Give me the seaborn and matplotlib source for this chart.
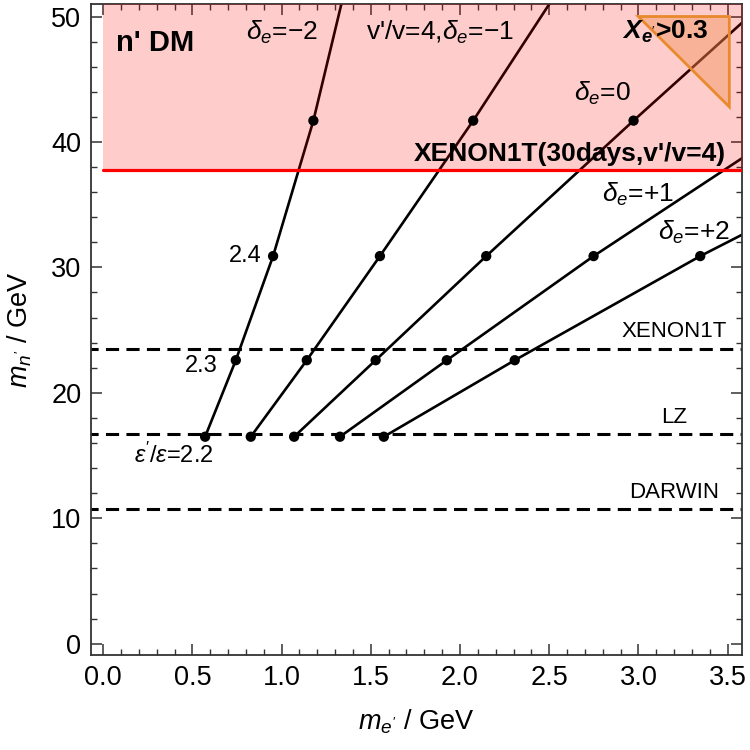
import matplotlib
matplotlib.use('Agg')
import matplotlib.pyplot as plt
from matplotlib.ticker import MultipleLocator, FormatStrFormatter
import seaborn as sns
import pandas as pd

# Data
eps_ratio = [2.2, 2.3, 2.4, 2.5]
dot_mn = [16.5, 22.6, 30.9, 41.7]          # m_n' at the eps'/eps dots

de_m2_x = [0.571, 0.743, 0.952, 1.178, 1.335]
de_m2_y = [16.5, 22.6, 30.9, 41.7, 51.0]
de_m1_x = [0.827, 1.141, 1.551, 2.074, 2.501]
de_m1_y = [16.5, 22.6, 30.9, 41.7, 51.0]
de_0_x = [1.070, 1.527, 2.147, 2.973, 3.581]
de_0_y = [16.5, 22.6, 30.9, 41.7, 49.5]
de_p1_x = [1.327, 1.926, 2.749, 3.581]
de_p1_y = [16.5, 22.6, 30.9, 38.7]
de_p2_x = [1.573, 2.307, 3.347, 3.581]
de_p2_y = [16.5, 22.6, 30.9, 32.6]

xenon_30d = 37.8
limits = {'XENON1T': 23.5, 'LZ': 16.7, 'DARWIN': 10.7}
tri_x = [3.0, 3.51, 3.51]
tri_y = [50.0, 50.0, 42.8]

curves = [('-2', de_m2_x, de_m2_y), ('-1', de_m1_x, de_m1_y), ('0', de_0_x, de_0_y),
          ('+1', de_p1_x, de_p1_y), ('+2', de_p2_x, de_p2_y)]
rows, dots = [], []
for name, xs, ys in curves:
    for i, (a, b) in enumerate(zip(xs, ys)):
        rows.append({'delta': name, 'me': a, 'mn': b})
        if i < len(xs) - 1 and b in dot_mn:
            dots.append({'delta': name, 'me': a, 'mn': b})
df = pd.DataFrame(rows)
df_dots = pd.DataFrame(dots)

sns.set_theme(style='ticks')
plt.rcParams['font.family'] = ['Liberation Sans', 'DejaVu Sans']
plt.rcParams['mathtext.fontset'] = 'custom'
plt.rcParams['mathtext.rm'] = 'Liberation Sans'
plt.rcParams['mathtext.it'] = 'Liberation Sans:italic'
plt.rcParams['mathtext.bf'] = 'Liberation Sans:bold'
plt.rcParams['mathtext.bfit'] = 'Liberation Sans:italic:bold'
for k in ['text.color', 'axes.labelcolor', 'xtick.labelcolor', 'ytick.labelcolor']:
    plt.rcParams[k] = 'black'

fig = plt.figure(figsize=(7.5, 7.5), dpi=100)
ax = fig.add_axes([0.1213, 0.1267, 0.868, 0.868])

sns.lineplot(data=df, x='me', y='mn', hue='delta', palette=['black'] * 5, sort=False,
             estimator=None, legend=False, lw=1.9, ax=ax, zorder=2)
sns.scatterplot(data=df_dots, x='me', y='mn', color='black', s=55, edgecolor='none',
                ax=ax, zorder=5)

# excluded region
ax.fill_between([0, 3.7], xenon_30d, 52, color='red', alpha=0.2, lw=0, zorder=3)
ax.plot([0, 3.7], [xenon_30d, xenon_30d], color='red', lw=2.3, zorder=6)
ax.fill(tri_x, tri_y, facecolor='#f09050', alpha=0.42, edgecolor='none', zorder=4)
ax.fill(tri_x, tri_y, facecolor='none', edgecolor='#e8892b', lw=2, zorder=4)

for name, yv in limits.items():
    ax.plot([-0.1, 3.7], [yv, yv], color='black', lw=2.2, ls=(0, (4.3, 2.4)), zorder=2)
    ax.text(3.2, yv + 1.35, name, ha='center', va='center', fontsize=16, zorder=7)

ax.text(1.0, 48.7, r'$\delta_e$=−2', ha='center', va='center', fontsize=19, zorder=7)
ax.text(1.89, 48.7, r"v'/v=4,$\delta_e$=−1", ha='center', va='center', fontsize=19, zorder=7)
ax.text(2.8, 43.9, r'$\delta_e$=0', ha='center', va='center', fontsize=19, zorder=7)
ax.text(3.0, 35.8, r'$\delta_e$=+1', ha='center', va='center', fontsize=19, zorder=7)
ax.text(3.31, 32.8, r'$\delta_e$=+2', ha='center', va='center', fontsize=19, zorder=7)
ax.text(3.49, 39.0, "XENON1T(30days,v'/v=4)", ha='right', va='center', fontsize=19,
        fontweight='bold', zorder=7)
ax.text(0.07, 47.9, "n' DM", ha='left', va='center', fontsize=21, fontweight='bold', zorder=7)
ax.text(3.15, 48.8, r"$\mathbfit{X}_{\mathbfit{e}'}$>0.3", ha='center', va='center',
        fontsize=19, fontweight='bold', zorder=7)
ax.text(0.887, 30.9, '2.4', ha='right', va='center', fontsize=17, zorder=7)
ax.text(0.642, 22.1, '2.3', ha='right', va='center', fontsize=17, zorder=7)
ax.text(0.393, 15.0, r"$\epsilon'/\epsilon$=2.2", ha='center', va='center', fontsize=17, zorder=7)

ax.set_xlim(-0.069, 3.581)
ax.set_ylim(-0.9, 51.0)
ax.xaxis.set_major_locator(MultipleLocator(0.5))
ax.xaxis.set_minor_locator(MultipleLocator(0.1))
ax.xaxis.set_major_formatter(FormatStrFormatter('%.1f'))
ax.yaxis.set_major_locator(MultipleLocator(10))
ax.yaxis.set_minor_locator(MultipleLocator(2))
ax.tick_params(which='both', direction='in', top=True, right=True, color='#333333')
ax.tick_params(which='major', length=8, width=1.1, labelsize=19.5, pad=7, labelcolor='black')
ax.tick_params(which='minor', length=4.5, width=1)
for s in ax.spines.values():
    s.set_color('#333333')
    s.set_linewidth(1.3)

ax.set_xlabel(r"$m_{e'}$ / GeV", fontsize=19.5, labelpad=12, color='black')
ax.set_ylabel(r"$m_{n'}$ / GeV", fontsize=19.5, labelpad=12, color='black')

fig.savefig('out.png', dpi=100)
